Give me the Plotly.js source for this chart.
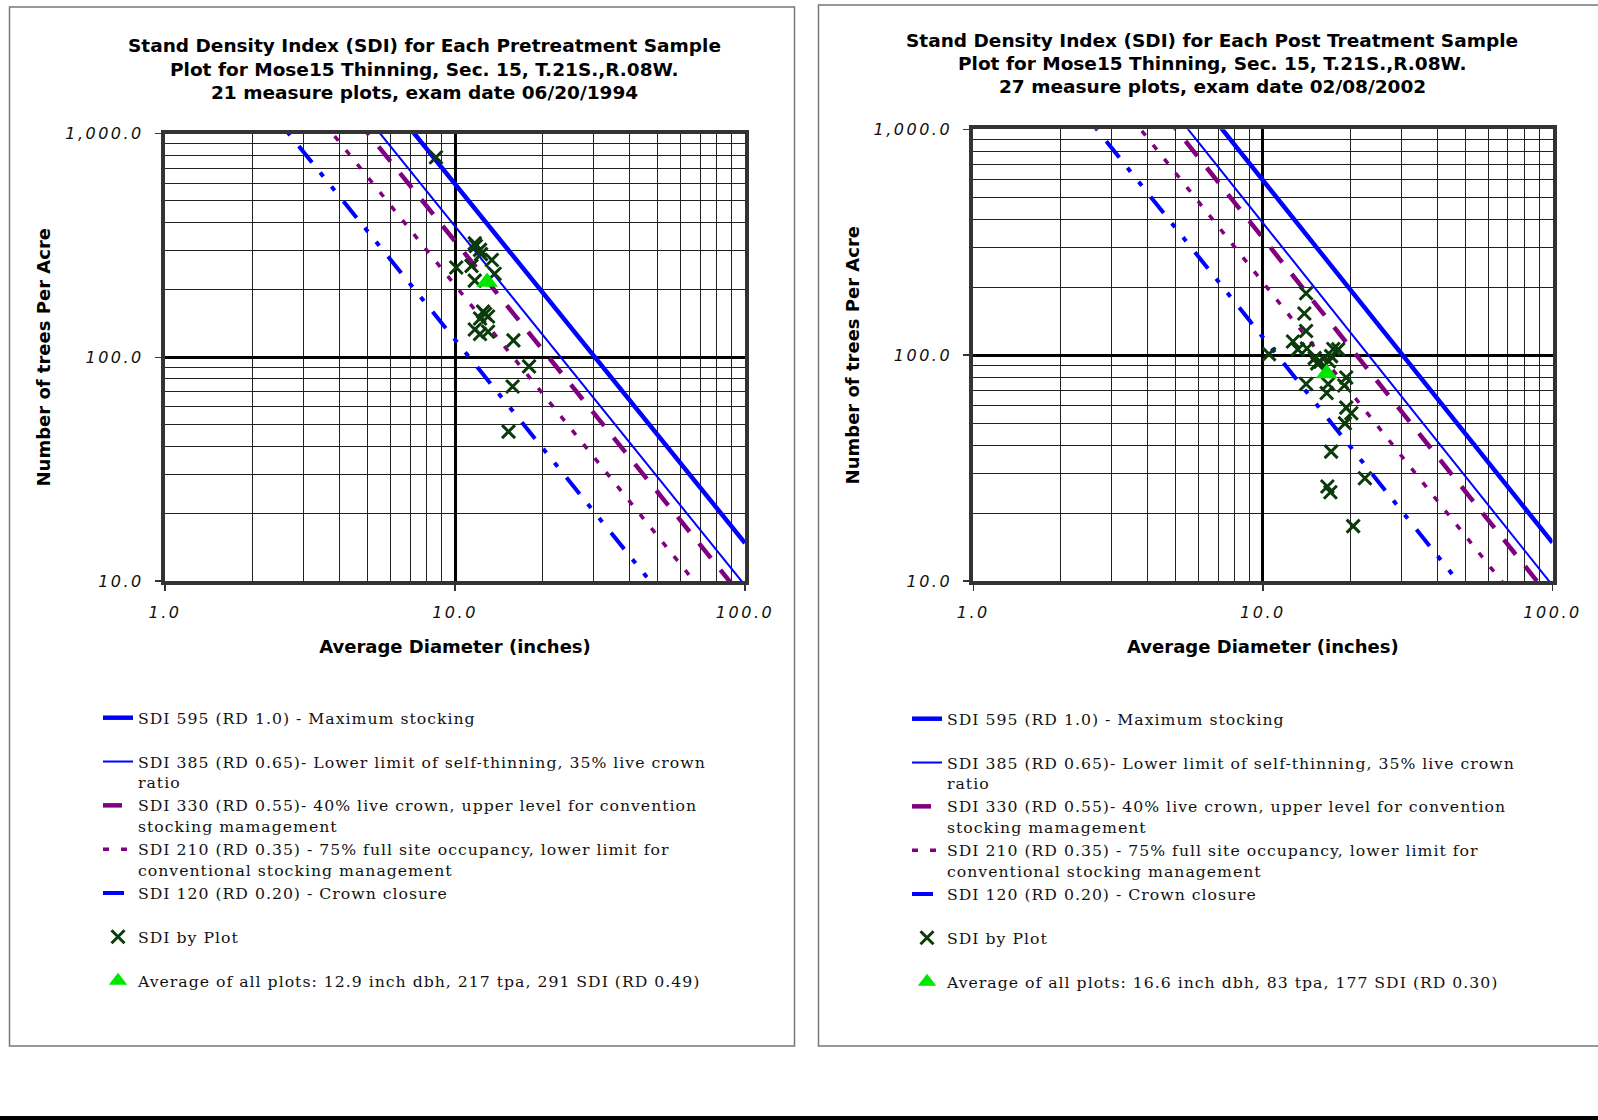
<!DOCTYPE html>
<html>
<head>
<meta charset="utf-8">
<script src="https://cdn.plot.ly/plotly-3.0.1.min.js"></script>
<style>
html, body { margin: 0; padding: 0; background: #ffffff; }
#chart { width: 1598px; height: 1120px; }
text.legendtext, .legend text, .legend2 text, g[class^="legend"] text { letter-spacing: 1px !important; }
#chart .xtick text, #chart .ytick text, #chart .x2tick text, #chart .y2tick text { letter-spacing: 2.5px; }
</style>
</head>
<body>
<div id="chart"></div>
<script>
// ---------- DATA ----------
// Stand Density Index reference levels (Reineke): TPA = SDI / (D/10)^1.605
const sdiLevels = [595, 385, 330, 210, 120];
const sdiNames = [
  "SDI 595 (RD 1.0) - Maximum stocking",
  "SDI 385 (RD 0.65)- Lower limit of self-thinning, 35% live crown",
  "SDI 330 (RD 0.55)- 40% live crown, upper level for convention",
  "SDI 210 (RD 0.35) - 75% full site occupancy, lower limit for",
  "SDI 120 (RD 0.20) - Crown closure"
];
const sdiNameSecondLines = ["", "ratio", "stocking mamagement", "conventional stocking management", ""];
const lineDiameters = [1, 100];
const reinekeExponent = 1.605;

// Pretreatment plots (1994)
const preDiameter = [8.6, 11.7, 11.8, 12.2, 12.3, 13.4, 10.1, 11.4, 13.7, 11.7, 12.5, 12.7, 13.0, 12.2, 11.7, 12.2, 13.0, 15.9, 18.0, 15.8, 15.3];
const preTPA      = [783, 323, 314, 302, 289, 272, 252, 256, 236, 220, 160, 156, 152, 149, 133, 127, 130, 119, 91, 74, 46.5];
const preAvgDiameter = [12.9];
const preAvgTPA      = [217];
const preAvgName = "Average of all plots: 12.9 inch dbh, 217 tpa, 291 SDI (RD 0.49)";

// Post treatment plots (2002)
const postDiameter = [14.1, 13.9, 14.1, 12.7, 13.2, 14.2, 10.5, 15.1, 15.4, 15.8, 17.5, 18.2, 17.2, 16.9, 14.1, 16.8, 16.6, 19.4, 19.1, 19.4, 20.2, 19.2, 17.2, 22.5, 16.7, 17.1, 20.5];
const postTPA      = [188, 153, 128, 115, 106, 107, 101, 97, 92, 93.5, 106.5, 106, 99, 94, 74.5, 74.5, 68, 79.6, 73.4, 58.6, 55.3, 49.9, 37.4, 28.5, 26.2, 24.7, 17.5];
const postAvgDiameter = [16.6];
const postAvgTPA      = [83];
const postAvgName = "Average of all plots: 16.6 inch dbh, 83 tpa, 177 SDI (RD 0.30)";

const plotName = "SDI by Plot";

const preTitleLines = [
  "Stand Density Index (SDI) for Each Pretreatment Sample",
  "Plot for Mose15 Thinning, Sec. 15, T.21S.,R.08W.",
  "21 measure plots, exam date 06/20/1994"
];
const postTitleLines = [
  "Stand Density Index (SDI) for Each Post Treatment Sample",
  "Plot for Mose15 Thinning, Sec. 15, T.21S.,R.08W.",
  "27 measure plots, exam date 02/08/2002"
];

const xTickVals = [1, 10, 100];
const xTickText = ["1.0", "10.0", "100.0"];
const yTickVals = [10, 100, 1000];
const yTickText = ["10.0", "100.0", "1,000.0"];
const xMinorVals = [2, 3, 4, 5, 6, 7, 8, 9, 20, 30, 40, 50, 60, 70, 80, 90];
const yMinorVals = [20, 30, 40, 50, 60, 70, 80, 90, 200, 300, 400, 500, 600, 700, 800, 900];

const xTitle = "Average Diameter (inches)";
const yTitle = "Number of trees Per Acre";

// ---------- STYLES ----------
const W = 1598, H = 1120;
const lineStyles = [
  { color: "#0000ff", width: 4.5, dash: "solid" },
  { color: "#0000ff", width: 2,   dash: "solid" },
  { color: "#800080", width: 4.5, dash: "19px,15px" },
  { color: "#800080", width: 3.5, dash: "6px,12px" },
  { color: "#0000ff", width: 4,   dash: "21px,13px,5px,13px,5px,14px" }
];
const NB = "\u00a0";

function reineke(sdi, d) { return sdi / Math.pow(d / 10, reinekeExponent); }

function legendLabel(i) {
  return sdiNames[i] + "<br>" + (sdiNameSecondLines[i] || NB);
}

function panelTraces(xa, ya, leg, dia, tpa, avgD, avgT, avgName) {
  const traces = [];
  sdiLevels.forEach((sdi, i) => {
    traces.push({
      type: "scatter", mode: "lines", xaxis: xa, yaxis: ya, legend: leg,
      x: lineDiameters, y: lineDiameters.map(d => reineke(sdi, d)),
      name: legendLabel(i),
      line: { color: lineStyles[i].color, width: lineStyles[i].width, dash: lineStyles[i].dash },
      hoverinfo: "skip"
    });
  });
  traces.push({
    type: "scatter", mode: "markers", xaxis: xa, yaxis: ya, legend: leg,
    x: dia, y: tpa, name: plotName + "<br>" + NB,
    marker: { symbol: "x-thin", size: 13, color: "#0b3a0b", line: { color: "#0b3a0b", width: 3 } },
    cliponaxis: false
  });
  traces.push({
    type: "scatter", mode: "markers", xaxis: xa, yaxis: ya, legend: leg,
    x: avgD, y: avgT, name: avgName,
    marker: { symbol: "triangle-up", size: 19, color: "#00e600", line: { width: 0 } },
    cliponaxis: false
  });
  return traces;
}

const data = [].concat(
  panelTraces("x", "y", "legend", preDiameter, preTPA, preAvgDiameter, preAvgTPA, preAvgName),
  panelTraces("x2", "y2", "legend2", postDiameter, postTPA, postAvgDiameter, postAvgTPA, postAvgName)
);

const tickFont = { family: "DejaVu Sans", size: 16, style: "italic", color: "#111" };
const titleFont = { family: "DejaVu Sans", size: 18, weight: "bold", color: "#000" };

function xAxis(domain, anchor) {
  return {
    domain: domain, anchor: anchor, type: "log", range: [0, 2],
    tickmode: "array", tickvals: xTickVals, ticktext: xTickText,
    showgrid: true, gridcolor: "#000", gridwidth: 3, zeroline: false,
    showline: true, mirror: true, linecolor: "#333", linewidth: 4,
    ticks: "outside", ticklen: 6, tickwidth: 1.5, tickcolor: "#333",
    ticklabelstandoff: 8, tickfont: tickFont,
    minor: { tickmode: "array", tickvals: xMinorVals, showgrid: true, gridcolor: "#222", gridwidth: 1, ticks: "" },
    title: { text: xTitle, font: titleFont, standoff: 20 },
    fixedrange: true
  };
}
function yAxis(domain, anchor) {
  return {
    domain: domain, anchor: anchor, type: "log", range: [1, 3],
    tickmode: "array", tickvals: yTickVals, ticktext: yTickText,
    showgrid: true, gridcolor: "#000", gridwidth: 3, zeroline: false,
    showline: true, mirror: true, linecolor: "#333", linewidth: 4,
    ticks: "outside", ticklen: 6, tickwidth: 1.5, tickcolor: "#333",
    ticklabelstandoff: 8, tickfont: tickFont,
    minor: { tickmode: "array", tickvals: yMinorVals, showgrid: true, gridcolor: "#222", gridwidth: 1, ticks: "" },
    title: { text: yTitle, font: titleFont, standoff: 28 },
    fixedrange: true
  };
}

function legendBox(xpx, ytop) {
  return {
    x: xpx / W, xanchor: "left", y: 1 - ytop / H, yanchor: "top",
    valign: "top", itemwidth: 30, traceorder: "normal",
    font: { family: "DejaVu Serif", size: 15.7, color: "#111" },
    bgcolor: "rgba(0,0,0,0)", borderwidth: 0,
    itemclick: false, itemdoubleclick: false
  };
}

function titleAnnots(lines, cx, ys) {
  return lines.map((t, i) => ({
    text: t, xref: "paper", yref: "paper", x: cx / W, y: 1 - ys[i] / H,
    xanchor: "center", yanchor: "middle", showarrow: false,
    font: { family: "DejaVu Sans", size: 18.5, weight: "bold", color: "#000" }
  }));
}

const layout = {
  width: W, height: H,
  margin: { l: 0, r: 0, t: 0, b: 0, pad: 0 },
  paper_bgcolor: "#ffffff", plot_bgcolor: "#ffffff",
  showlegend: true, hovermode: false,
  xaxis: xAxis([165 / W, 745 / W], "y"),
  yaxis: yAxis([1 - 581 / H, 1 - 133.5 / H], "x"),
  xaxis2: xAxis([973.3 / W, 1552.5 / W], "y2"),
  yaxis2: yAxis([1 - 581 / H, 1 - 129.3 / H], "x2"),
  legend: legendBox(98, 701),
  legend2: legendBox(907, 702),
  annotations: [].concat(
    titleAnnots(preTitleLines, 424, [46, 69.3, 92.7]),
    titleAnnots(postTitleLines, 1212, [40.8, 63.2, 86.6])
  ),
  shapes: [
    { type: "rect", xref: "paper", yref: "paper", layer: "below",
      x0: 9.5 / W, x1: 794.5 / W, y0: 1 - 1046 / H, y1: 1 - 7 / H,
      line: { color: "#777", width: 1.5 }, fillcolor: "rgba(0,0,0,0)" },
    { type: "rect", xref: "paper", yref: "paper", layer: "below",
      x0: 818.5 / W, x1: 1.01, y0: 1 - 1046 / H, y1: 1 - 5 / H,
      line: { color: "#777", width: 1.5 }, fillcolor: "rgba(0,0,0,0)" },
    { type: "rect", xref: "paper", yref: "paper", layer: "above",
      x0: 0, x1: 1, y0: 0, y1: 4 / H,
      line: { width: 0 }, fillcolor: "#000" }
  ]
};

Plotly.newPlot("chart", data, layout, { staticPlot: true, displayModeBar: false });
</script>
</body>
</html>
